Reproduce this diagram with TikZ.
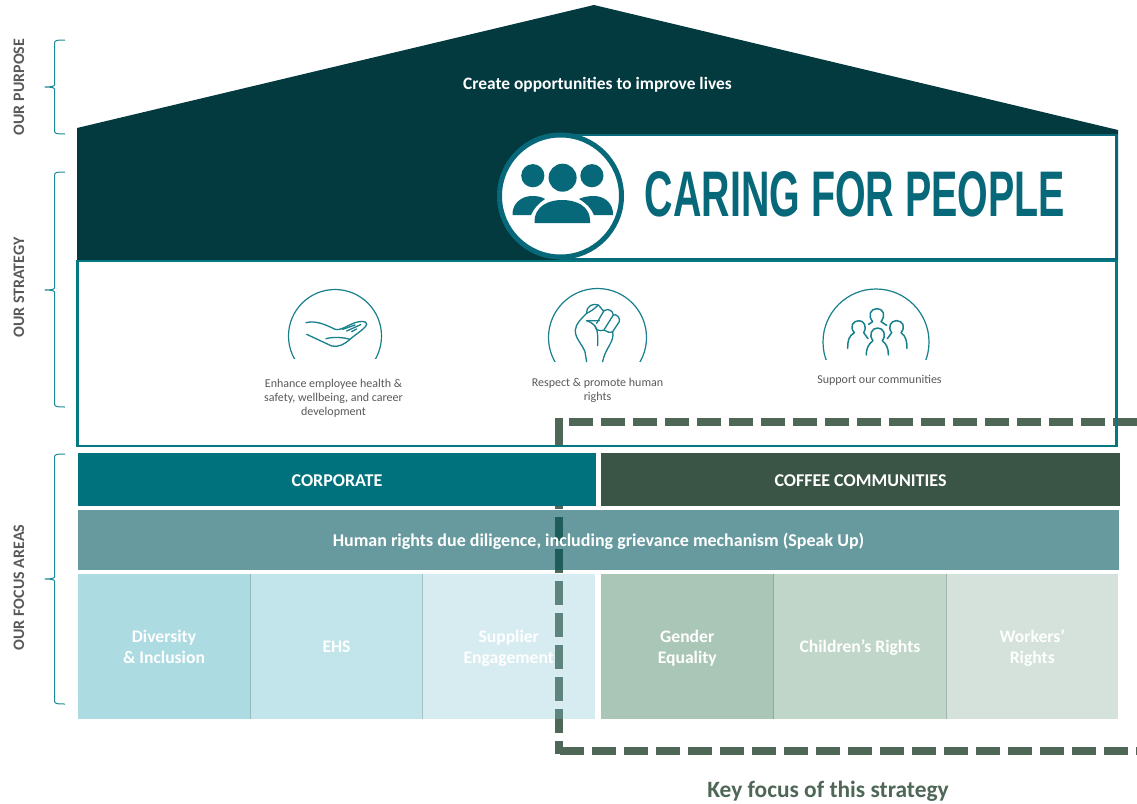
\documentclass[tikz,border=0pt]{standalone}
\usepackage{fontspec}
\usepackage{graphicx}
\setmainfont{Carlito}
\newfontfamily\logofont{Liberation Sans}
\definecolor{housecol}{HTML}{033A40}
\definecolor{logocol}{HTML}{07687A}
\definecolor{boxcol}{HTML}{06787F}
\definecolor{bracecol}{HTML}{1B8A96}
\definecolor{iconcol}{HTML}{17808C}
\definecolor{greytext}{HTML}{595959}
\definecolor{dashcol}{HTML}{4F6757}
\definecolor{corpcol}{HTML}{00727D}
\definecolor{coffeecol}{HTML}{3A5445}
\definecolor{bandcol}{RGB}{0,87,93}
\definecolor{cellA}{HTML}{ACDBE2}
\definecolor{cellB}{HTML}{C1E5EA}
\definecolor{cellC}{RGB}{127,195,211}
\definecolor{cellD}{HTML}{AAC6B7}
\definecolor{cellE}{HTML}{BFD6C9}
\definecolor{cellF}{HTML}{D4E2DB}
\tikzset{
  rowbox/.style={anchor=north west,inner sep=0pt,outer sep=0pt,draw=none,text=white,align=center,
    font=\fontsize{17.6}{21}\selectfont\bfseries},
  headbox/.style={rowbox,font=\fontsize{18}{21}\selectfont\bfseries},
  sidelabel/.style={rotate=90,text=greytext,font=\fontsize{16}{18}\selectfont\bfseries},
  caption/.style={text=greytext,align=center,font=\fontsize{12}{14.2}\selectfont},
  bracket/.style={draw=bracecol,line width=1pt,line join=round},
  iconline/.style={draw=iconcol,line width=1.3pt,line cap=round,line join=round},
  dashline/.style={draw=dashcol,line width=8pt,dash pattern=on 24pt off 8pt},
  logobody/.style={fill=logocol,draw=none}
}
\newcommand{\celltxt}[1]{\raisebox{-2.5pt}[12pt][5pt]{#1}}
\newcommand{\headtxt}[1]{\raisebox{-3.2pt}[12pt][5pt]{#1}}
\newcommand{\sidebrace}[3]{%
  \draw[bracket] (65,#1) .. controls (58,#1) and (54.5,#1) .. (54.5,{#1+3}) -- (54.5,{#2-2})
    .. controls (54.5,{#2-.5}) and (50,#2) .. (45,#2)
    .. controls (50,#2) and (54.5,{#2+.5}) .. (54.5,{#2+2}) -- (54.5,{#3-3})
    .. controls (54.5,#3) and (58,#3) .. (65,#3);}
\begin{document}
\begin{tikzpicture}[x=1pt,y=-1pt]
\useasboundingbox (0,0) rectangle (1137,803);
% house
\fill[housecol] (77,128) -- (594,5) -- (1118,130) -- (1118,261) -- (77,261) -- cycle;
\node[anchor=center,text=white,font=\fontsize{17.4}{19}\selectfont\bfseries] (purpose) at (597.5,84.5) {Create opportunities to improve lives};
% logo
\draw[logocol,line width=2.5pt,fill=white] (560,135) rectangle (1116.5,259);
\draw[logocol,line width=5pt,fill=white] (560.5,196) circle[radius=61pt];
\fill[logocol] (532.8,175.7) circle[radius=11.6pt];
\fill[logocol] (562.6,177.7) circle[radius=14pt];
\fill[logocol] (591.9,175.7) circle[radius=11.6pt];
\fill[logobody] (534.5,223) .. controls (534,205) and (550,200) .. (562,200) .. controls (575,200) and (591,205) .. (590,223) -- cycle;
\fill[logobody] (512.5,215) .. controls (512,203) and (522,196) .. (532,196) .. controls (538,196) and (542,197) .. (545,199) .. controls (539,203) and (534,208) .. (531,215) -- cycle;
\fill[logobody] (613,215) .. controls (613.5,203) and (604,196) .. (594,196) .. controls (588,196) and (583,197) .. (579,199) .. controls (586,203) and (591,208) .. (594,215) -- cycle;
\node[anchor=west,inner sep=0pt,text=logocol] (logotext) at (644.7,194.5) {\resizebox{420pt}{45pt}{\logofont\bfseries CARING FOR PEOPLE}};
% strategy box fill
\fill[white] (77.5,261) rectangle (1116.5,446);
% icon arcs
\begin{scope}
\clip (280,280) rectangle (390,358);
\draw[iconline,line width=1.2pt] (335,336) circle[radius=46.5pt];
\end{scope}
\begin{scope}
\clip (540,280) rectangle (655,361);
\draw[iconline,line width=1.2pt] (597.5,337.5) circle[radius=49pt];
\end{scope}
\begin{scope}
\clip (815,280) rectangle (935,359);
\draw[iconline,line width=1.2pt] (876,342) circle[radius=53pt];
\end{scope}
% hand
\begin{scope}[shift={(240,280)},x=.3333pt,y=-.3333pt]
\draw[iconline] (198,128) .. controls (225,122) and (250,130) .. (285,148) .. controls (300,153) and (315,140) .. (345,128) .. controls (360,123) and (380,122) .. (380,132) .. controls (378,145) and (350,160) .. (330,178) .. controls (315,192) and (295,203) .. (275,198) -- (200,163);
\draw[iconline] (258,176) .. controls (280,170) and (310,172) .. (330,178);
\draw[iconline] (308,148) -- (345,135) (320,153) -- (362,134) (335,155) -- (350,147);
\end{scope}
% fist
\begin{scope}[shift={(240,280)},x=.3333pt,y=-.3333pt]
\draw[iconline] (1040,245) -- (1035,215) .. controls (1025,190) and (1005,175) .. (1006,150) .. controls (1008,130) and (1025,115) .. (1040,100) .. controls (1040,75) and (1060,70) .. (1075,75) .. controls (1085,85) and (1090,95) .. (1092,92) .. controls (1105,85) and (1118,90) .. (1120,105) .. controls (1130,100) and (1142,115) .. (1138,125) -- (1118,155) .. controls (1110,160) and (1100,155) .. (1092,150) .. controls (1078,155) and (1068,150) .. (1065,138) .. controls (1055,128) and (1050,125) .. (1040,122);
\draw[iconline] (1118,155) .. controls (1125,185) and (1095,205) .. (1088,245);
\draw[iconline] (1075,75) .. controls (1060,90) and (1050,95) .. (1040,100) (1092,92) -- (1070,130) (1120,105) -- (1093,148);
\draw[iconline] (1040,122) -- (1078,122) (1065,138) .. controls (1078,160) and (1072,180) .. (1073,197);
\end{scope}
% community
\begin{scope}[shift={(780,280)},x=.3333pt,y=-.3333pt]
\tikzset{iconline/.append style={line width=1.5pt}}
\draw[iconline] (278,125) .. controls (262,105) and (272,86) .. (291,86) .. controls (310,86) and (318,105) .. (303,125) (278,125) -- (266,133) (303,125) -- (320,136);
\draw[iconline] (223,158) .. controls (208,140) and (218,122) .. (237,122) .. controls (252,122) and (262,140) .. (251,158) (223,158) .. controls (205,168) and (203,185) .. (203,205) (251,158) -- (264,176);
\draw[iconline] (335,158) .. controls (322,140) and (333,122) .. (349,122) .. controls (368,122) and (378,140) .. (363,158) .. controls (378,168) and (381,185) .. (381,205) (335,158) -- (322,176);
\draw[iconline] (279,182) .. controls (265,165) and (275,144) .. (293,144) .. controls (311,144) and (320,165) .. (307,182) .. controls (320,192) and (326,208) .. (325,225) (279,182) .. controls (265,192) and (258,208) .. (259,225);
\end{scope}
\node[caption] (capA) at (333.5,398) {Enhance employee health \&\\safety, wellbeing, and career\\development};
\node[caption] (capB) at (597.5,390.5) {Respect \& promote human\\rights};
\node[caption] (capC) at (879.5,380.5) {Support our communities};
% dashed focus frame (beneath the rows)
\coordinate (dashTL) at (559,418);
\coordinate (dashBL) at (559,754);
\coordinate (dashTopA) at (569,422);
\coordinate (dashTopB) at (1137,422);
\coordinate (dashBotA) at (560,750.5);
\coordinate (dashBotB) at (1137,750.5);
\draw[dashline,dash pattern=on 27pt off 8pt on 24pt off 8pt on 24pt off 8pt on 24pt off 8pt on 24pt off 8pt on 24pt off 8pt on 24pt off 8pt on 24pt off 8pt on 24pt off 8pt on 24pt off 8pt on 24pt off 8pt] (dashTL) -- (dashBL);
\draw[dashline] (dashTopA) -- (dashTopB);
\draw[dashline] (dashBotA) -- (dashBotB);
% strategy box border
\draw[boxcol,line width=2.5pt] (77.5,261) rectangle (1116.5,446);
% rows
\node[headbox,fill=corpcol,minimum width=518pt,minimum height=53pt] (corporate) at (78,453) {\headtxt{CORPORATE}};
\node[headbox,fill=coffeecol,minimum width=519pt,minimum height=53pt] (coffee) at (601,453) {\headtxt{COFFEE COMMUNITIES}};
\node[headbox,fill=bandcol,fill opacity=.6,text opacity=1,minimum width=1041pt,minimum height=60pt] (band) at (78,510) {\headtxt{Human rights due diligence, including grievance mechanism (Speak Up)}};
\node[rowbox,fill=cellA,minimum width=172pt,minimum height=145pt] (div) at (78,574) {\celltxt{Diversity}\\\celltxt{\& Inclusion}};
\node[rowbox,fill=cellB,minimum width=172pt,minimum height=145pt] (ehs) at (250.5,574) {\celltxt{EHS}};
\node[rowbox,fill=cellC,fill opacity=.32,text opacity=1,minimum width=172.5pt,minimum height=145pt] (sup) at (422.5,574) {\celltxt{Supplier}\\\celltxt{Engagement}};
\node[rowbox,fill=cellD,minimum width=172.5pt,minimum height=145pt] (gender) at (601,574) {\celltxt{Gender}\\\celltxt{Equality}};
\node[rowbox,fill=cellE,minimum width=173pt,minimum height=145pt] (child) at (773.5,574) {\celltxt{Children’s Rights}};
\node[rowbox,fill=cellF,minimum width=171.5pt,minimum height=145pt] (workers) at (946.5,574) {\celltxt{Workers'}\\\celltxt{Rights}};
\draw[cellD!85!black,line width=.4pt] (773.5,574) -- (773.5,719);
\draw[cellE!85!black,line width=.4pt] (946.5,574) -- (946.5,719);
\draw[cellA!85!black,line width=.3pt] (250.5,574) -- (250.5,719);
\draw[cellB!85!black,line width=.3pt] (422.5,574) -- (422.5,719);
\node[text=dashcol,font=\fontsize{23.4}{27}\selectfont\bfseries] (keyfocus) at (828,791) {Key focus of this strategy};
% side labels and braces
\node[sidelabel] (lblP) at (19,87) {OUR PURPOSE};
\node[sidelabel] (lblS) at (19,287.5) {OUR STRATEGY};
\node[sidelabel] (lblF) at (19,587.5) {OUR FOCUS AREAS};
\sidebrace{40}{87}{134}
\sidebrace{172}{290}{407}
\sidebrace{454}{579}{704}
\end{tikzpicture}
\end{document}
